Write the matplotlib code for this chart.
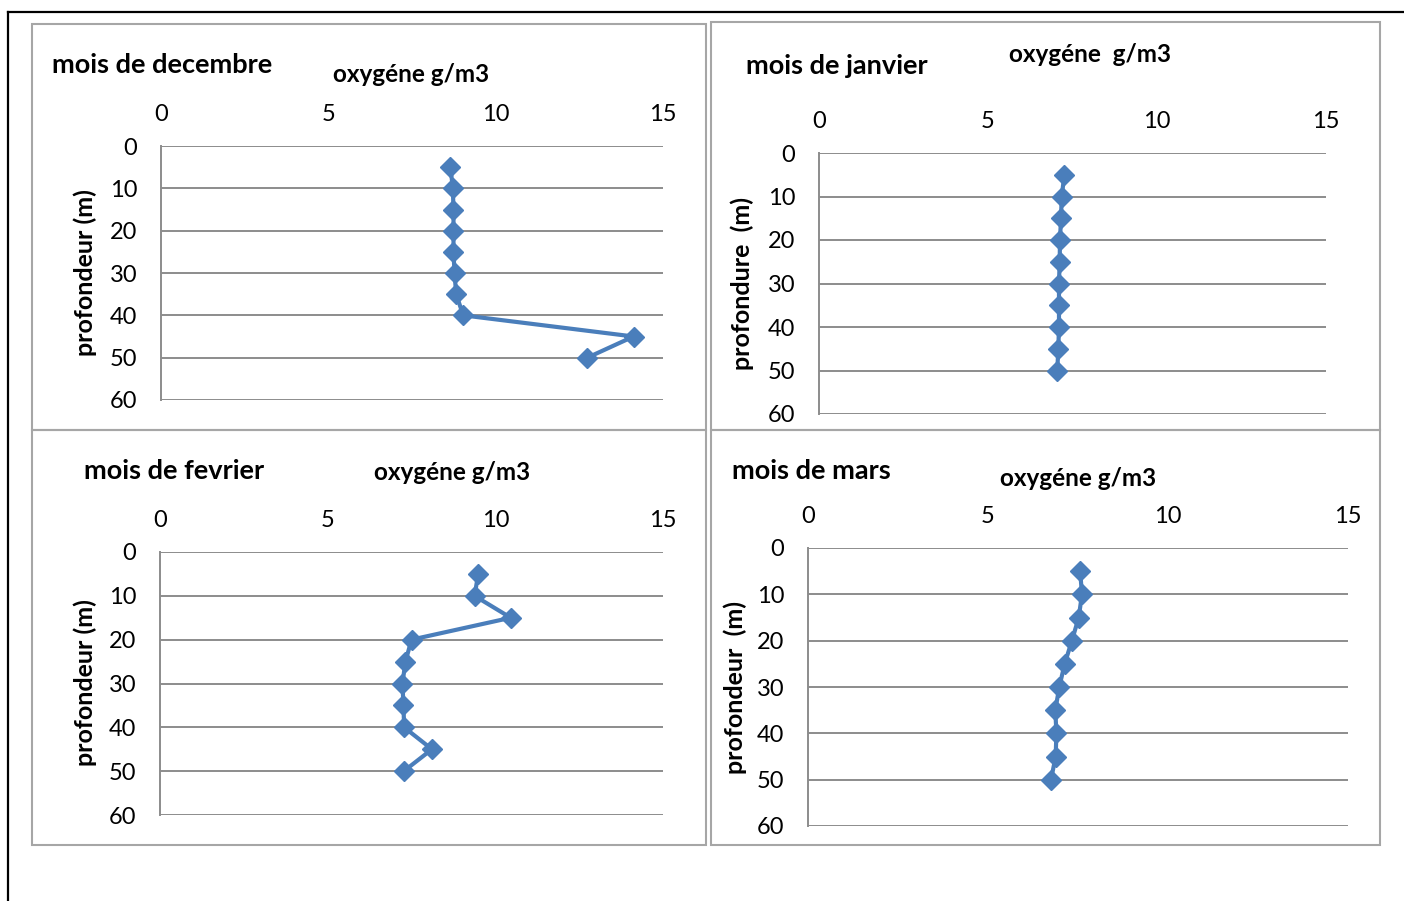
import matplotlib
matplotlib.use("Agg")
import matplotlib.pyplot as plt
from matplotlib.patches import Rectangle
from matplotlib.lines import Line2D

W, H = 1404, 901

# profondeur des mesures (m)
depth = [5, 10, 15, 20, 25, 30, 35, 40, 45, 50]

# oxygene dissous (g/m3) par mois
oxy_dec = [8.65, 8.72, 8.74, 8.74, 8.74, 8.77, 8.82, 9.03, 14.12, 12.74]
oxy_jan = [7.26, 7.18, 7.16, 7.13, 7.12, 7.10, 7.10, 7.10, 7.08, 7.05]
oxy_fev = [9.49, 9.38, 10.46, 7.50, 7.32, 7.23, 7.26, 7.28, 8.11, 7.27]
oxy_mar = [7.56, 7.61, 7.52, 7.33, 7.13, 6.98, 6.87, 6.90, 6.88, 6.75]

titles = ["mois de decembre", "mois de janvier", "mois de fevrier", "mois de mars"]
xlabels = ["oxygéne g/m3", "oxygéne  g/m3", "oxygéne g/m3", "oxygéne g/m3"]
ylabels = ["profondeur (m)", "profondure  (m)", "profondeur (m)", "profondeur  (m)"]
xticks = [0, 5, 10, 15]
yticks = [0, 10, 20, 30, 40, 50, 60]

plt.rcParams['font.family'] = ['Lato', 'DejaVu Sans']

BLUE = "#4A7EBB"
GRID = "#8C8C8C"
FRAME = "#A6A6A6"

fig = plt.figure(figsize=(W / 100, H / 100), dpi=100)


def fx(x):
    return x / W


def fy(y):
    return 1 - y / H


# page borders (top and left)
fig.add_artist(Line2D([fx(8), fx(1404)], [fy(12), fy(12)], color="black", lw=1.6))
fig.add_artist(Line2D([fx(8), fx(8)], [fy(12), fy(901)], color="black", lw=1.6))

# chart frames: (left, top, right, bottom)
frames = [(32, 24, 706, 430), (711, 22, 1380, 430),
          (32, 430, 706, 845), (711, 430, 1380, 845)]
for l, t, r, b in frames:
    fig.add_artist(Rectangle((fx(l), fy(b)), fx(r - l), (b - t) / H,
                             fill=False, edgecolor=FRAME, lw=1.5))

# plot areas: (left, top, right, bottom)
areas = [(161, 146, 663, 400), (819, 153, 1326, 414),
         (160, 552, 663, 815), (808, 548, 1348, 826)]
series = [oxy_dec, oxy_jan, oxy_fev, oxy_mar]
title_pos = [(52, 65), (746, 66), (84, 471), (732, 471)]
xlab_pos = [(411, 75), (1090, 55), (452, 473), (1078, 478)]
ylab_pos = [(85, 273), (742, 283), (85, 683), (735, 688)]

for i in range(4):
    l, t, r, b = areas[i]
    ax = fig.add_axes([fx(l), fy(b), fx(r - l), (b - t) / H])
    ax.plot(series[i], depth, color=BLUE, lw=3, marker="D",
            markersize=10.5, markerfacecolor=BLUE, markeredgecolor=BLUE,
            clip_on=False, zorder=3)
    ax.set_xlim(0, 15)
    ax.set_ylim(60, 0)
    ax.set_xticks(xticks)
    ax.set_yticks(yticks)
    ax.xaxis.tick_top()
    ax.tick_params(length=0, labelsize=17, pad=17)
    ax.tick_params(axis="x", pad=15)
    ax.grid(axis="y", color=GRID, lw=1.4)
    ax.set_axisbelow(True)
    for s in ["top", "right", "bottom"]:
        ax.spines[s].set_visible(False)
    ax.spines["left"].set_color(GRID)
    ax.spines["left"].set_linewidth(1.4)
    ax.patch.set_alpha(0)

    x, y = title_pos[i]
    fig.text(fx(x), fy(y), titles[i], fontsize=19.5, fontweight="bold",
             ha="left", va="center")
    x, y = xlab_pos[i]
    fig.text(fx(x), fy(y), xlabels[i], fontsize=17.5, fontweight="bold",
             ha="center", va="center")
    x, y = ylab_pos[i]
    fig.text(fx(x), fy(y), ylabels[i], fontsize=18, fontweight="bold",
             ha="center", va="center", rotation=90)

fig.savefig("out.png", dpi=100)
